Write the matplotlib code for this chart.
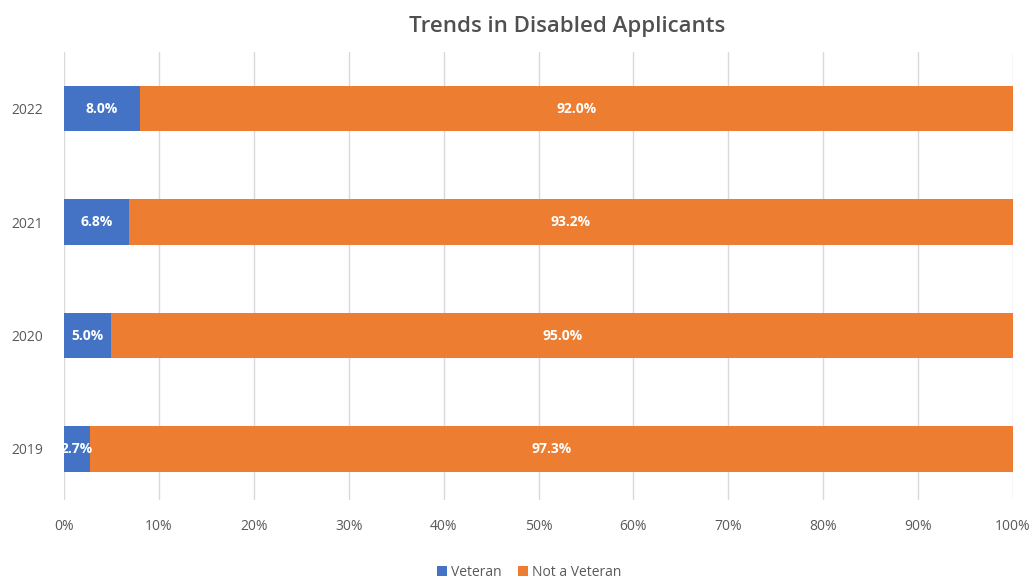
import numpy as np
import matplotlib
matplotlib.use("Agg")
import matplotlib.pyplot as plt

years = ["2019", "2020", "2021", "2022"]
veteran = [2.7, 5.0, 6.8, 8.0]
not_veteran = [97.3, 95.0, 93.2, 92.0]

plt.rcParams['font.family'] = ['Open Sans', 'DejaVu Sans']

fig = plt.figure(figsize=(10.34, 5.85), dpi=100, facecolor='white')
ax = fig.add_axes([0.0619, 0.1453, 0.9178, 0.7657])

y = np.arange(len(years))
b1 = ax.barh(y, veteran, height=0.4, color='#4472C4', label='Veteran', zorder=3)
b2 = ax.barh(y, not_veteran, height=0.4, left=veteran, color='#ED7D31',
             label='Not a Veteran', zorder=3)

for bars, vals, lefts in [(b1, veteran, [0]*4), (b2, not_veteran, veteran)]:
    for bar, v, l in zip(bars, vals, lefts):
        ax.text(l + v / 2, bar.get_y() + bar.get_height() / 2, f"{v:.1f}%",
                ha='center', va='center', color='white', fontsize=10,
                fontweight='bold', zorder=4)

ax.set_xlim(0, 100)
ax.set_ylim(-0.45, 3.5)
ax.set_xticks(np.arange(0, 101, 10))
ax.set_xticklabels([f"{t}%" for t in range(0, 101, 10)])
ax.set_yticks(y)
ax.set_yticklabels(years)
ax.tick_params(axis='both', length=0, labelsize=10, colors='#595959')
ax.tick_params(axis='x', pad=14)
ax.tick_params(axis='y', pad=15)
ax.grid(axis='x', color='#d9d9d9', linewidth=1, zorder=0)
for s in ax.spines.values():
    s.set_visible(False)

fig.text(0.548, 0.955, "Trends in Disabled Applicants", ha='center', va='center',
         fontsize=16, fontweight='semibold', color='#505050')

fig.legend(loc='center', bbox_to_anchor=(0.512, 0.022), ncol=2, frameon=False,
           fontsize=10, handlelength=0.7, handleheight=0.7, columnspacing=1.2,
           handletextpad=0.3, labelcolor='#595959')

fig.savefig("out.png", dpi=100)
